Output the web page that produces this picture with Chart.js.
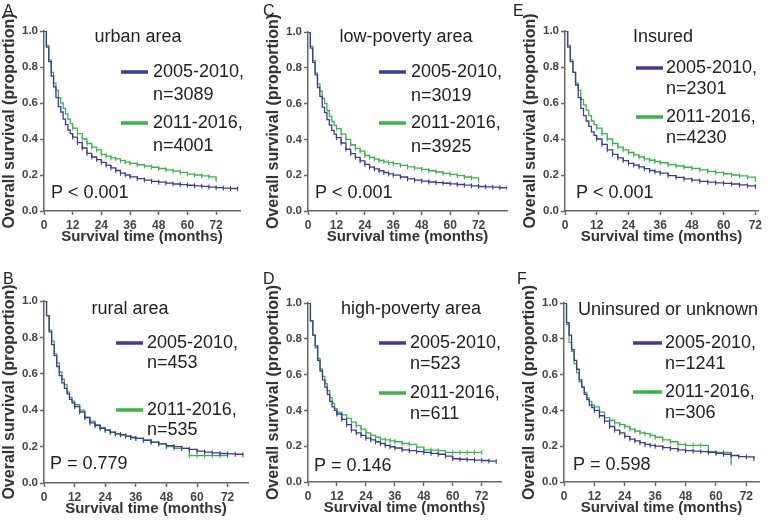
<!DOCTYPE html>
<html>
<head>
<meta charset="utf-8">
<script src="https://cdn.jsdelivr.net/npm/chart.js@4.4.0/dist/chart.umd.min.js"></script>
<style>
  body { margin: 0; background: #fff; }
  #wrap { position: relative; width: 768px; height: 527px; overflow: hidden; }
  canvas { position: absolute; }
</style>
</head>
<body>
<div id="wrap">
  <canvas id="pA" width="256" height="264" style="left:0;top:0"></canvas>
  <canvas id="pB" width="256" height="263" style="left:0;top:264px"></canvas>
  <canvas id="pC" width="256" height="264" style="left:256px;top:0"></canvas>
  <canvas id="pD" width="256" height="263" style="left:256px;top:264px"></canvas>
  <canvas id="pE" width="256" height="264" style="left:512px;top:0"></canvas>
  <canvas id="pF" width="256" height="263" style="left:512px;top:264px"></canvas>
</div>
<script>
// follow-up grid (months); each series stops where its curve ends
var months = [0,1,2,3,4,5,6,7,8,9,10,11,12,14,16,18,20,22,24,26,28,30,32,34,36,
              39,42,45,48,51,54,57,60,63,66,69,72,75,78,81,84];

var urbanEarly = [1.0,.91,.83,.75,.69,.63,.58,.55,.51,.48,.45,.43,.41,
                  .38,.35,.32,.30,.285,.27,.255,.24,.225,.21,.20,.19,
                  .18,.172,.165,.16,.155,.15,.147,.143,.14,.137,.133,.13,.127,.125,.123];
var urbanLate  = [1.0,.92,.84,.77,.71,.67,.63,.60,.57,.54,.51,.485,.46,
                  .43,.40,.375,.355,.34,.315,.305,.295,.29,.28,.272,.265,
                  .257,.25,.243,.236,.228,.222,.215,.205,.20,.195,.19,.175];
var ruralEarly = [1.0,.92,.83,.76,.70,.64,.59,.55,.52,.49,.46,.44,.42,
                  .39,.36,.33,.315,.30,.29,.28,.27,.265,.258,.25,.245,
                  .235,.225,.215,.205,.20,.19,.185,.175,.17,.165,.162,.16,.158,.155];
var ruralLate  = [1.0,.92,.84,.78,.71,.66,.61,.57,.54,.50,.47,.45,.43,
                  .40,.36,.34,.32,.305,.29,.278,.27,.265,.258,.25,.245,
                  .235,.225,.215,.20,.19,.19,.15,.15,.15,.15,.15,.15];
var lowPovEarly = [1.0,.91,.83,.76,.69,.64,.58,.55,.51,.48,.45,.43,.41,
                   .38,.345,.32,.30,.28,.26,.245,.235,.225,.215,.207,.20,
                   .19,.18,.172,.167,.162,.158,.155,.152,.148,.144,.14,.137,.135,.133,.13,.13];
var lowPovLate  = [1.0,.92,.84,.77,.71,.67,.63,.60,.56,.53,.50,.48,.46,
                   .43,.40,.37,.35,.335,.31,.30,.29,.282,.275,.27,.265,
                   .255,.247,.24,.233,.225,.218,.21,.205,.198,.19,.185,.17];
var highPovEarly = [1.0,.90,.82,.76,.68,.62,.57,.53,.49,.45,.42,.40,.38,
                    .35,.32,.29,.275,.26,.245,.235,.225,.215,.205,.197,.19,
                    .18,.175,.17,.165,.16,.155,.145,.13,.127,.125,.122,.12,.117,.115];
var highPovLate  = [1.0,.90,.82,.75,.69,.63,.59,.55,.51,.47,.44,.41,.39,
                    .375,.355,.335,.315,.295,.275,.26,.25,.24,.235,.23,.225,
                    .215,.21,.195,.18,.178,.175,.165,.165,.165,.165,.165,.165];
var insuredEarly = [1.0,.91,.83,.77,.70,.63,.57,.53,.50,.47,.44,.42,.40,
                    .37,.34,.315,.295,.28,.265,.255,.245,.235,.225,.217,.21,
                    .197,.187,.178,.172,.165,.16,.156,.154,.15,.145,.14,.135];
var insuredLate  = [1.0,.92,.84,.77,.71,.67,.62,.59,.56,.53,.50,.48,.46,
                    .43,.40,.375,.355,.34,.325,.312,.30,.29,.282,.275,.268,
                    .258,.25,.243,.237,.228,.22,.213,.207,.20,.195,.188,.175];
var uninsEarly = [1.0,.89,.82,.74,.68,.63,.57,.53,.49,.46,.43,.415,.40,
                  .37,.34,.31,.29,.275,.255,.24,.23,.22,.21,.205,.20,
                  .192,.187,.18,.175,.172,.17,.165,.16,.155,.148,.142,.14,.13];
var uninsLate  = [1.0,.88,.78,.73,.66,.61,.56,.53,.50,.47,.45,.43,.42,
                  .39,.36,.345,.33,.32,.31,.295,.285,.275,.27,.26,.25,
                  .235,.225,.21,.205,.205,.205,.17,.165,.165,.105];

var panelLetters = ['A','B','C','D','E','F'];
var panelTitles = ['urban area','rural area','low-poverty area','high-poverty area','Insured','Uninsured or unknown'];
var earlyCounts = ['n=3089','n=453','n=3019','n=523','n=2301','n=1241'];
var lateCounts  = ['n=4001','n=535','n=3925','n=611','n=4230','n=306'];
var pValues = ['P < 0.001','P = 0.779','P < 0.001','P = 0.146','P < 0.001','P = 0.598'];
var xMaxes = [82, 80, 84, 80, 73, 77];

var BLUE = '#3c3c96';
var GREEN = '#3cb44b';
var AXIS = '#666';
var FONT = '"Liberation Sans", Arial, sans-serif';
var YW = 44, XH = 35;

function toPoints(vals) {
    var pts = [];
    for (var i = 0; i < vals.length; i++) {
        pts.push({ x: months[i], y: vals[i] });
    }
    return pts;
}

// text drawn over each panel: letter, subgroup name, legend and p value
var panelText = {
    id: 'panelText',
    afterDraw: function(chart, args, o) {
        var ctx = chart.ctx;
        ctx.save();
        ctx.textBaseline = 'middle';
        ctx.fillStyle = '#222';
        ctx.font = '16px ' + FONT;
        ctx.textAlign = 'left';
        ctx.fillText(o.letter, o.letterX, o.letterY);

        ctx.font = '18px ' + FONT;
        ctx.textAlign = 'center';
        ctx.fillText(o.title, o.titleX, o.titleY);

        ctx.textAlign = 'left';
        ctx.lineWidth = 3.5;
        ctx.strokeStyle = BLUE;
        ctx.beginPath();
        ctx.moveTo(o.lineX0, o.blueY);
        ctx.lineTo(o.lineX1, o.blueY);
        ctx.stroke();
        ctx.strokeStyle = GREEN;
        ctx.beginPath();
        ctx.moveTo(o.lineX0, o.greenY);
        ctx.lineTo(o.lineX1, o.greenY);
        ctx.stroke();

        ctx.fillText('2005-2010,', o.textX, o.blueY);
        ctx.fillText(o.early, o.textX, o.blueY + o.gap);
        ctx.fillText('2011-2016,', o.textX, o.greenY);
        ctx.fillText(o.late, o.textX, o.greenY + o.gap);

        ctx.fillText(o.p, o.pX, o.pY);
        ctx.restore();
    }
};

function censorRadius(ctx) {
    return ctx.dataIndex >= 12 ? 2.5 : 0;
}

function makePanel(k, canvasId, box, area, early, late, txt) {
    var pad = {
        left: area.l - box.x - YW,
        top: area.t - box.y,
        right: box.x + box.w - area.r,
        bottom: box.y + box.h - area.b - XH
    };
    var t = {
        letter: panelLetters[k], title: panelTitles[k],
        early: earlyCounts[k], late: lateCounts[k], p: pValues[k]
    };
    for (var key in txt) {
        var v = txt[key];
        if (/X/.test(key)) v -= box.x;
        else if (/Y/.test(key)) v -= box.y;
        t[key] = v;
    }
    var series = function(vals, color) {
        return {
            data: toPoints(vals),
            borderColor: color,
            backgroundColor: color,
            borderWidth: 1.3,
            stepped: true,
            fill: false,
            pointStyle: 'line',
            rotation: 90,
            pointRadius: censorRadius,
            pointBorderWidth: 1,
            pointBorderColor: color
        };
    };
    return new Chart(document.getElementById(canvasId), {
        type: 'line',
        data: { datasets: [series(early, BLUE), series(late, GREEN)] },
        options: {
            responsive: false,
            animation: false,
            events: [],
            layout: { padding: pad },
            scales: {
                x: {
                    type: 'linear',
                    min: 0,
                    max: xMaxes[k],
                    afterBuildTicks: function(s) {
                        s.ticks = s.ticks.filter(function(tk) { return tk.value % 12 === 0 && tk.value <= 72; });
                    },
                    afterFit: function(s) { s.height = XH; },
                    ticks: {
                        stepSize: 12, includeBounds: false, maxRotation: 0, autoSkip: false, padding: 3,
                        color: '#444', font: { family: FONT, size: 12, weight: 'bold' }
                    },
                    grid: { display: true, drawOnChartArea: false, drawTicks: true, tickLength: 4, tickWidth: 1.5, tickColor: AXIS },
                    border: { display: true, color: AXIS, width: 1.5 },
                    title: {
                        display: true, text: 'Survival time (months)', color: '#333', padding: 0,
                        font: { family: FONT, size: 15, weight: 'bold' }
                    }
                },
                y: {
                    min: 0,
                    max: 1,
                    afterFit: function(s) { s.width = YW; },
                    ticks: {
                        stepSize: 0.2, padding: 2,
                        color: '#444', font: { family: FONT, size: 11.5, weight: 'bold' },
                        callback: function(v) { return v.toFixed(1); }
                    },
                    grid: { display: true, drawOnChartArea: false, drawTicks: true, tickLength: 4, tickWidth: 1.5, tickColor: AXIS },
                    border: { display: true, color: AXIS, width: 1.5 },
                    title: {
                        display: true, text: 'Overall survival (proportion)', color: '#333', padding: 0,
                        font: { family: FONT, size: 16, weight: 'bold' }
                    }
                }
            },
            plugins: {
                legend: { display: false },
                tooltip: { enabled: false },
                panelText: t
            }
        },
        plugins: [panelText]
    });
}

makePanel(0, 'pA', {x:0, y:0, w:256, h:264}, {l:44, t:31, r:240, b:211}, urbanEarly, urbanLate,
    {letterX:3, letterY:12, titleX:138, titleY:37, lineX0:121, lineX1:148, textX:153,
     blueY:72, greenY:123, gap:23, pX:51, pY:193});
makePanel(1, 'pB', {x:0, y:264, w:256, h:263}, {l:44, t:301, r:248, b:483}, ruralEarly, ruralLate,
    {letterX:3, letterY:280, titleX:130, titleY:309, lineX0:116, lineX1:143, textX:147,
     blueY:343, greenY:410, gap:20, pX:50, pY:464});
makePanel(2, 'pC', {x:256, y:0, w:256, h:264}, {l:308, t:32, r:511, b:211}, lowPovEarly, lowPovLate,
    {letterX:263, letterY:12, titleX:406, titleY:37, lineX0:379, lineX1:406, textX:411,
     blueY:72, greenY:123, gap:24, pX:315, pY:193});
makePanel(3, 'pD', {x:256, y:264, w:256, h:263}, {l:308, t:303, r:501, b:482}, highPovEarly, highPovLate,
    {letterX:263, letterY:280, titleX:411, titleY:309, lineX0:379, lineX1:406, textX:410,
     blueY:343, greenY:393, gap:21, pX:314, pY:466});
makePanel(4, 'pE', {x:512, y:0, w:256, h:264}, {l:565, t:31, r:758, b:211}, insuredEarly, insuredLate,
    {letterX:513, letterY:12, titleX:663, titleY:37, lineX0:636, lineX1:663, textX:666,
     blueY:68, greenY:117, gap:21, pX:576, pY:193});
makePanel(5, 'pF', {x:512, y:264, w:256, h:263}, {l:564, t:303, r:759, b:482}, uninsEarly, uninsLate,
    {letterX:517, letterY:280, titleX:668, titleY:310, lineX0:633, lineX1:662, textX:665,
     blueY:343, greenY:392, gap:21, pX:573, pY:465});
</script>
</body>
</html>
